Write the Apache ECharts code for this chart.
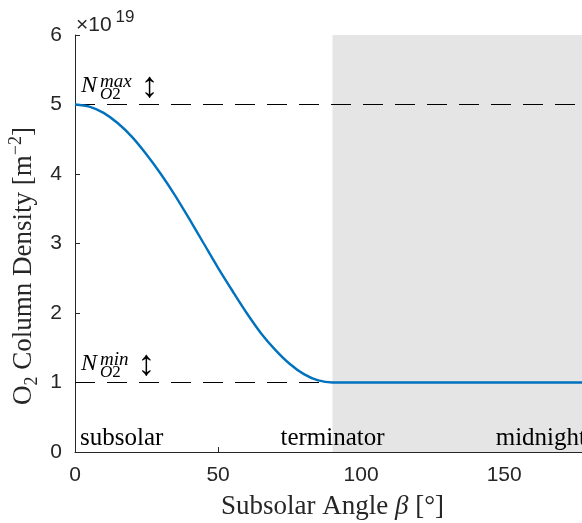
<!DOCTYPE html>
<html>
<head>
<meta charset="utf-8">
<script src="https://cdn.jsdelivr.net/npm/echarts@6/dist/echarts.min.js"></script>
<style>
  html, body { margin: 0; padding: 0; background: #ffffff; }
  #chart { width: 582px; height: 523px; }
</style>
</head>
<body>
<div id="chart"></div>
<script>
// Subsolar angle (degrees) and O2 column density (in units of 1e19 m^-2)
const beta = [0, 5, 10, 15, 20, 25, 30, 35, 40, 45, 50, 55, 60, 65, 70, 75, 80, 85, 90,
              100, 110, 120, 130, 140, 150, 160, 170, 180];
const density = [5.00, 4.97, 4.88, 4.73, 4.53, 4.28, 4.00, 3.69, 3.35, 3.00, 2.65, 2.32, 2.00,
                 1.71, 1.47, 1.27, 1.12, 1.03, 1.00,
                 1.00, 1.00, 1.00, 1.00, 1.00, 1.00, 1.00, 1.00, 1.00];

// Reference levels N_O2^max and N_O2^min
const levels = [5, 1];
const levelTags = ['max', 'min'];

// Night side (shaded) range of subsolar angle
const nightSide = [90, 180];

// Region labels along the bottom of the axes
const regionAngles = [0, 90, 180];
const regionNames = ['subsolar', 'terminator', 'midnight'];

// Tick labels
const xTicks = [0, 50, 100, 150];
const yTicks = [0, 1, 2, 3, 4, 5, 6];
const yExponent = '19';

const SERIF = '"Liberation Serif", "Times New Roman", serif';
const SANS = '"Liberation Sans", Arial, Helvetica, sans-serif';
const AXIS_COLOR = '#262626';

const chart = echarts.init(document.getElementById('chart'), null, { renderer: 'canvas' });

const measureCtx = document.createElement('canvas').getContext('2d');
function textWidth(str, font) {
  measureCtx.font = font;
  return measureCtx.measureText(str).width;
}

const titleRich = {
  r: { fontFamily: SERIF, fontSize: 27, lineHeight: 34, color: AXIS_COLOR, fill: AXIS_COLOR },
  i: { fontFamily: SERIF, fontSize: 27, lineHeight: 34, fontStyle: 'italic', color: AXIS_COLOR, fill: AXIS_COLOR },
  sub: { fontFamily: SERIF, fontSize: 18, lineHeight: 26, verticalAlign: 'bottom', color: AXIS_COLOR, fill: AXIS_COLOR },
  sup: { fontFamily: SERIF, fontSize: 18, lineHeight: 17, verticalAlign: 'top', color: AXIS_COLOR, fill: AXIS_COLOR }
};

function levelLabel(params, api) {
  const idx = params.dataIndex;
  const p = api.coord([api.value(0), api.value(1)]);
  const x0 = p[0], y0 = p[1];
  const supFont = 'italic 19px ' + SERIF;
  const subFont = 'italic 17px ' + SERIF;
  const scriptX = x0 + 25;
  const scriptW = Math.max(textWidth(levelTags[idx], supFont), textWidth('O2', subFont));
  return {
    type: 'group',
    children: [
      { type: 'text', x: x0 + 6, y: y0 - 19,
        style: { text: 'N', font: 'italic 24px ' + SERIF, fill: '#000', align: 'left', verticalAlign: 'middle' } },
      { type: 'text', x: scriptX, y: y0 - 23,
        style: { text: levelTags[idx], font: supFont, fill: '#000', align: 'left', verticalAlign: 'middle' } },
      { type: 'text', x: scriptX, y: y0 - 10,
        style: { text: '{o|O}{t|2}', fill: '#000', align: 'left', verticalAlign: 'middle',
                 rich: { o: { font: 'italic 17px ' + SERIF }, t: { font: '17px ' + SERIF } } } },
      { type: 'text', x: scriptX + scriptW + 18, y: y0 - 17,
        style: { text: '\u2195', font: '36px ' + SERIF, fill: '#000', align: 'center', verticalAlign: 'middle' } }
    ]
  };
}

function regionLabel(params, api) {
  const idx = params.dataIndex;
  const p = api.coord([api.value(0), api.value(1)]);
  const aligns = ['left', 'center', 'right'];
  const shift = [5, 0, -4];
  return {
    type: 'text',
    x: p[0] + shift[idx], y: p[1] - 14,
    style: { text: regionNames[idx], font: '25px ' + SERIF, fill: '#000',
             align: aligns[idx], verticalAlign: 'middle' }
  };
}

const option = {
  backgroundColor: '#ffffff',
  animation: false,
  grid: { left: 75, top: 35, bottom: 71, right: -8, containLabel: false, outerBoundsMode: 'none' },
  xAxis: {
    type: 'value', min: 0, max: 180, interval: 50,
    name: '{r|Subsolar Angle }{i|β}{r| [°]}',
    nameLocation: 'middle', nameGap: 38,
    nameTextStyle: { rich: titleRich },
    axisLine: { show: true, lineStyle: { color: AXIS_COLOR, width: 1 } },
    axisTick: { show: true, inside: true, length: 5, lineStyle: { color: AXIS_COLOR } },
    axisLabel: {
      color: AXIS_COLOR, fontFamily: SANS, fontSize: 21, margin: 13,
      showMaxLabel: false,
      formatter: v => (xTicks.indexOf(v) >= 0 ? String(v) : '')
    },
    splitLine: { show: false }
  },
  yAxis: {
    type: 'value', min: 0, max: 6, interval: 1,
    axisLine: { show: true, lineStyle: { color: AXIS_COLOR, width: 1 } },
    axisTick: { show: true, inside: true, length: 5, lineStyle: { color: AXIS_COLOR } },
    axisLabel: {
      color: AXIS_COLOR, fontFamily: SANS, fontSize: 21, margin: 13,
      formatter: v => (yTicks.indexOf(v) >= 0 ? String(v) : '')
    },
    splitLine: { show: false }
  },
  graphic: [
    {
      // y-axis title, drawn rotated
      type: 'text', x: 24, y: 266, rotation: Math.PI / 2,
      style: {
        text: '{r|O}{sub|2}{r| Column Density [m}{sup|−2}{r|]}',
        align: 'center', verticalAlign: 'middle',
        rich: titleRich
      }
    },
    {
      // shared exponent of the y-axis
      type: 'text', left: 76, top: 9,
      style: {
        text: '{a|×10}{b|' + yExponent + '}',
        rich: {
          a: { fontFamily: SANS, fontSize: 21, lineHeight: 27, verticalAlign: 'bottom', fill: AXIS_COLOR },
          b: { fontFamily: SANS, fontSize: 17, lineHeight: 17, verticalAlign: 'top', fill: AXIS_COLOR, padding: [0, 0, 0, 4] }
        }
      }
    }
  ],
  series: [
    {
      // shaded night side and the two reference levels
      type: 'line', data: [], silent: true, z: 1,
      markArea: {
        silent: true, z: 1,
        itemStyle: { color: '#e5e5e5' },
        data: [[{ xAxis: nightSide[0], yAxis: 0 }, { xAxis: nightSide[1], yAxis: 6 }]]
      },
      markLine: {
        silent: true, symbol: 'none', z: 2,
        label: { show: false },
        lineStyle: { color: '#000', width: 1.2, type: [20, 12] },
        data: levels.map(l => ({ yAxis: l }))
      }
    },
    {
      type: 'line', z: 6,
      data: beta.map((b, i) => [b, density[i]]),
      showSymbol: false, smooth: 0.3,
      lineStyle: { color: '#0072BD', width: 2.4 },
      clip: false
    },
    {
      type: 'custom', z: 7, silent: true,
      data: levels.map(l => [0, l]),
      renderItem: levelLabel
    },
    {
      type: 'custom', z: 7, silent: true,
      data: regionAngles.map(a => [a, 0]),
      renderItem: regionLabel
    }
  ]
};

chart.setOption(option);
</script>
</body>
</html>
